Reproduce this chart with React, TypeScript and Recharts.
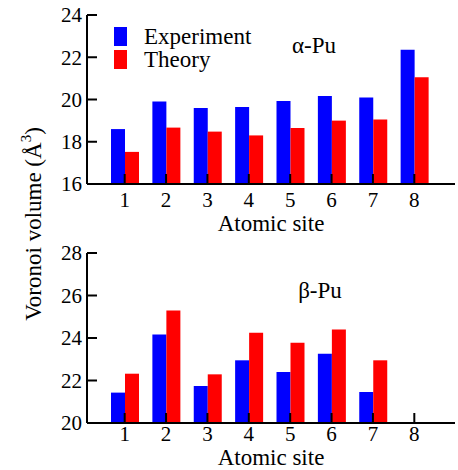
import React from "react";
import { BarChart, Bar, XAxis, YAxis, Legend } from "recharts";

const sites = ["1", "2", "3", "4", "5", "6", "7", "8"];
const alphaExperiment = [18.6, 19.9, 19.6, 19.65, 19.93, 20.17, 20.1, 22.35];
const alphaTheory = [17.52, 18.67, 18.48, 18.3, 18.65, 19.0, 19.05, 21.05];
const betaExperiment = [21.43, 24.16, 21.74, 22.95, 22.4, 23.26, 21.46, null];
const betaTheory = [22.32, 25.3, 22.29, 24.25, 23.78, 24.4, 22.95, null];
const alphaTicks = [16, 18, 20, 22, 24];
const betaTicks = [20, 22, 24, 26, 28];

const FONT = "Liberation Serif, Times New Roman, Times, DejaVu Serif, serif";
const W = 458;

type Row = { site: string; experiment: number | null; theory: number | null };

const toRows = (exp: (number | null)[], th: (number | null)[]): Row[] =>
  sites.map((site, i) => ({ site, experiment: exp[i], theory: th[i] }));

const alphaData = toRows(alphaExperiment, alphaTheory);
const betaData = toRows(betaExperiment, betaTheory);

function LegendBox({ payload }: any) {
  return (
    <div style={{ fontFamily: FONT, fontSize: 23, lineHeight: "23px", textAlign: "left" }}>
      {(payload || []).map((p: any) => (
        <div key={p.value} style={{ display: "flex", alignItems: "center", height: 23 }}>
          <span style={{ display: "inline-block", width: 13, height: 19, background: p.color, marginRight: 17 }} />
          <span>{p.value}</span>
        </div>
      ))}
    </div>
  );
}

function Panel({
  data,
  ticks,
  top,
  plotHeight,
  axisHeight,
  tickGap,
  labelOffset,
  legend,
}: {
  data: Row[];
  ticks: number[];
  top: number;
  plotHeight: number;
  axisHeight: number;
  tickGap: number;
  labelOffset: number;
  legend?: boolean;
}) {
  const height = 235;
  const tickStyle = { fontFamily: FONT, fontSize: 21, fill: "#000" };
  return (
    <BarChart
      width={W}
      height={height}
      data={data}
      barSize={14}
      barGap={0}
      margin={{ top, right: 3, left: 27, bottom: height - top - axisHeight - plotHeight }}
    >
      <Bar dataKey="experiment" name="Experiment" fill="#0000ff" isAnimationActive={false} />
      <Bar dataKey="theory" name="Theory" fill="#ff0000" isAnimationActive={false} />
      <XAxis
        dataKey="site"
        height={axisHeight}
        padding={{ left: 17, right: 20 }}
        tickSize={-10}
        tickMargin={tickGap}
        interval={0}
        axisLine={{ stroke: "#000", strokeWidth: 2 }}
        tickLine={{ stroke: "#000", strokeWidth: 2 }}
        tick={tickStyle}
        label={{ value: "Atomic site", position: "insideBottom", offset: labelOffset, style: { fontFamily: FONT, fontSize: 23, fill: "#000" } }}
      />
      <XAxis xAxisId="top" orientation="top" dataKey="site" height={0} tick={false} tickLine={false} axisLine={{ stroke: "#000", strokeWidth: 2 }} />
      <YAxis
        domain={[ticks[0], ticks[ticks.length - 1]]}
        ticks={ticks}
        width={60}
        tickSize={-10}
        tickMargin={15}
        interval={0}
        axisLine={{ stroke: "#000", strokeWidth: 2 }}
        tickLine={{ stroke: "#000", strokeWidth: 2 }}
        tick={tickStyle}
      />
      <YAxis yAxisId="right" orientation="right" width={0} tick={false} tickLine={false} axisLine={{ stroke: "#000", strokeWidth: 2 }} />
      {legend && (
        <Legend
          layout="horizontal"
          verticalAlign="middle"
          align="center"
          content={<LegendBox />}
          wrapperStyle={{ position: "absolute", top: 25, left: 114, width: "auto", height: "auto" }}
        />
      )}
    </BarChart>
  );
}

export default function App() {
  return (
    <div style={{ position: "absolute", left: 0, top: 0, width: W, height: 470, background: "#fff" }}>
      <div style={{ position: "absolute", left: 0, top: 0 }}>
        <Panel data={alphaData} ticks={alphaTicks} top={15} plotHeight={169} axisHeight={50} tickGap={18} labelOffset={3} legend />
      </div>
      <div style={{ position: "absolute", left: 0, top: 235 }}>
        <Panel data={betaData} ticks={betaTicks} top={18} plotHeight={170} axisHeight={46} tickGap={13} labelOffset={4} />
      </div>
      <svg width={W} height={470} style={{ position: "absolute", left: 0, top: 0, pointerEvents: "none" }}>
        <text x={314} y={53} textAnchor="middle" fontFamily={FONT} fontSize={23}>
          α-Pu
        </text>
        <text x={320} y={298} textAnchor="middle" fontFamily={FONT} fontSize={23}>
          β-Pu
        </text>
        <text x={41} y={224} transform="rotate(-90 41 224)" textAnchor="middle" fontFamily={FONT} fontSize={23}>
          Voronoi volume (Å
          <tspan fontSize={15} dy={-10}>3</tspan>
          <tspan dy={10}>)</tspan>
        </text>
      </svg>
    </div>
  );
}
